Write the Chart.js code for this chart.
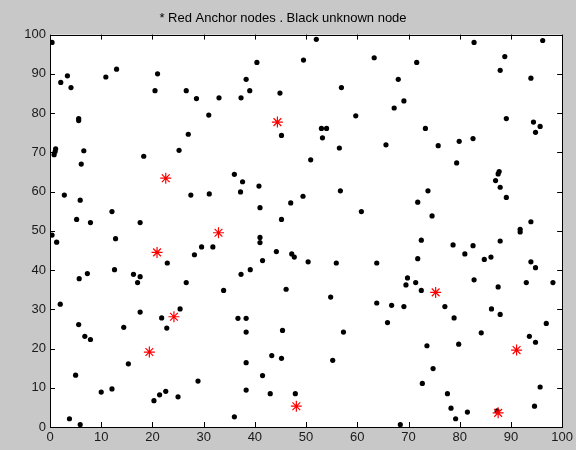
<!DOCTYPE html>
<html>
<head>
<meta charset="utf-8">
<script src="https://cdn.jsdelivr.net/npm/chart.js@4.4.1/dist/chart.umd.min.js"></script>
<style>
  html, body { margin: 0; padding: 0; background: #c8c8c8; }
  #wrap { width: 576px; height: 450px; }
</style>
</head>
<body>
<div id="wrap"><canvas id="chart" width="576" height="450"></canvas></div>
<script>
const titleText = "* Red Anchor nodes . Black unknown node";
const axisMin = 0;
const axisMax = 100;
const tickStep = 10;

// anchor nodes (red asterisks)
const redX = [44.4, 22.6, 20.9, 32.9, 19.4, 24.2, 48.1, 75.3, 91.1, 87.5];
const redY = [77.7, 63.4, 44.5, 49.5, 19.1, 28.1, 5.3, 34.3, 19.6, 3.6];

// unknown nodes (black dots)
const blackX = [
  0.4, 2.1, 3.4, 4.1, 5.6, 5.6, 1.1, 1.0, 0.8, 6.6, 6.1, 10.9, 13.0, 18.3, 20.5, 21.0, 25.2, 26.6, 27.0, 28.6, 31.0, 33.0,
  37.3, 39.0, 38.3, 40.4, 44.9, 45.2, 49.5, 52.0, 53.0, 54.0, 53.2, 50.9, 56.5, 56.9, 59.7, 63.3, 65.6,
  67.2, 68.0, 69.1, 71.6, 73.3, 75.8, 79.9, 79.4, 82.6, 82.8, 88.8, 87.9, 89.1, 93.9, 94.4, 95.7, 94.8, 96.2,
  2.8, 5.9, 5.2, 7.9, 0.4, 1.3, 5.7, 7.3, 12.1, 12.8, 12.6, 16.3, 17.6, 17.1, 17.6, 22.9, 27.5, 31.1, 28.2, 29.6, 31.8, 26.6,
  36.0, 37.6, 37.2, 40.8, 41.0, 47.0, 49.4, 45.2, 56.7, 60.8, 41.0, 41.0, 44.2, 47.2, 47.7, 41.5, 39.1, 37.3, 50.4, 55.9, 63.8, 33.9, 46.1, 54.8,
  87.7, 87.5, 87.0, 87.9, 89.1, 73.8, 71.8, 74.6, 72.5, 78.7, 82.6, 81.0, 71.8, 84.8, 86.1, 87.9, 91.8, 91.8, 93.9, 93.9, 94.8,
  69.8, 69.5, 71.4, 72.5, 82.8, 87.5, 93.0, 98.2,
  2.0, 5.6, 6.8, 7.9, 5.0, 3.8, 5.9, 10.0, 12.1, 14.4, 15.3, 17.6, 21.8, 22.8, 25.4, 20.3, 21.4, 22.6, 25.0, 28.9,
  63.8, 65.9, 36.7, 38.3, 38.3, 45.4, 57.3, 43.3, 45.2, 38.3, 55.2, 41.5, 38.3, 43.0, 47.9, 36.0,
  66.7, 69.1, 77.1, 78.9, 73.6, 79.8, 74.8, 72.7, 77.6, 78.3, 79.2, 81.5, 68.4, 86.2, 87.9, 84.2, 93.6, 94.8, 96.9, 95.7, 94.6, 87.3
];
const blackY = [
  98.0, 87.8, 89.5, 86.5, 78.6, 78.1, 70.9, 70.2, 69.4, 70.4, 67.0, 89.2, 91.2, 69.0, 85.7, 90.0, 70.5, 85.7, 74.6, 83.7, 79.5, 83.9,
  83.9, 85.7, 88.6, 92.9, 85.1, 74.3, 93.5, 98.8, 76.1, 76.1, 73.7, 68.1, 71.1, 86.5, 79.3, 94.1, 71.9,
  81.3, 88.6, 83.1, 92.9, 76.1, 71.7, 72.8, 67.3, 73.5, 98.0, 94.4, 90.9, 78.6, 88.9, 77.7, 76.6, 75.1, 98.5,
  59.1, 57.8, 52.9, 52.1, 48.9, 47.1, 37.8, 39.1, 54.9, 48.0, 40.1, 38.9, 38.3, 36.8, 52.1, 41.8, 59.1, 59.4, 43.9, 45.9, 45.9, 36.8,
  64.4, 62.5, 59.9, 61.4, 55.9, 57.1, 58.8, 52.9, 60.2, 54.9, 48.3, 47.0, 44.7, 44.1, 43.3, 42.4, 40.1, 38.9, 42.1, 41.8, 41.8, 34.8, 35.1, 33.1,
  65.1, 64.5, 62.8, 61.1, 58.5, 60.2, 57.3, 53.8, 47.6, 46.4, 46.2, 44.1, 42.9, 42.7, 43.3, 47.4, 50.4, 49.7, 52.3, 42.1, 40.6,
  38.0, 36.2, 36.8, 34.8, 37.5, 35.7, 36.8, 36.8,
  31.3, 26.1, 23.1, 22.3, 13.2, 2.1, 0.6, 8.9, 9.7, 25.4, 16.1, 29.3, 27.8, 25.2, 30.1, 6.7, 8.2, 9.1, 7.7, 11.7,
  31.6, 26.6, 27.7, 27.7, 24.2, 24.6, 24.2, 18.2, 17.5, 16.4, 17.0, 13.1, 9.4, 8.5, 8.5, 2.6,
  31.0, 30.7, 30.7, 27.8, 20.7, 21.1, 14.9, 11.1, 8.5, 4.8, 2.1, 3.8, 0.6, 30.1, 28.7, 24.0, 23.1, 21.6, 26.4, 10.2, 5.3, 4.1
];

const toPoints = (xs, ys) => xs.map((x, i) => ({ x, y: ys[i] }));

// white plot area + black box + inward ticks on all four sides (MATLAB look)
const matlabFrame = {
    id: 'matlabFrame',
    beforeDatasetsDraw(chart) {
        const { ctx, chartArea: a } = chart;
        ctx.save();
        ctx.fillStyle = '#ffffff';
        ctx.fillRect(a.left, a.top, a.right - a.left, a.bottom - a.top);
        ctx.restore();
    },
    afterDatasetsDraw(chart) {
        const { ctx, chartArea: a, scales } = chart;
        const len = 5;
        ctx.save();
        ctx.strokeStyle = '#000000';
        ctx.lineWidth = 1;
        ctx.beginPath();
        for (const t of scales.x.ticks) {
            const px = Math.round(scales.x.getPixelForValue(t.value)) + 0.5;
            ctx.moveTo(px, a.bottom); ctx.lineTo(px, a.bottom - len);
            ctx.moveTo(px, a.top); ctx.lineTo(px, a.top + len);
        }
        for (const t of scales.y.ticks) {
            const py = Math.round(scales.y.getPixelForValue(t.value)) + 0.5;
            ctx.moveTo(a.left, py); ctx.lineTo(a.left + len, py);
            ctx.moveTo(a.right, py); ctx.lineTo(a.right - len, py);
        }
        ctx.stroke();
        ctx.strokeRect(Math.round(a.left) + 0.5, Math.round(a.top) + 0.5,
            Math.round(a.right - a.left), Math.round(a.bottom - a.top));
        ctx.restore();
    }
};

const tickFont = { family: "'Liberation Sans', Arial, sans-serif", size: 13 };

new Chart(document.getElementById('chart'), {
    type: 'scatter',
    data: {
        datasets: [
            {
                label: 'Anchor nodes',
                data: toPoints(redX, redY),
                pointStyle: 'star',
                radius: 5.5,
                borderColor: '#ff0000',
                backgroundColor: '#ff0000',
                borderWidth: 1.2,
            },
            {
                label: 'Unknown nodes',
                data: toPoints(blackX, blackY),
                pointStyle: 'circle',
                radius: 2.6,
                borderWidth: 0,
                backgroundColor: '#000000',
            }
        ]
    },
    options: {
        responsive: false,
        animation: false,
        layout: { padding: { left: 0, right: 10, top: 0, bottom: 0 } },
        plugins: {
            legend: { display: false },
            tooltip: { enabled: false },
            title: {
                display: true,
                text: titleText,
                color: '#000000',
                font: { family: "'Liberation Sans', Arial, sans-serif", size: 13, weight: 'normal' },
                padding: { top: 11, bottom: 8 },
            }
        },
        scales: {
            x: {
                type: 'linear',
                min: axisMin,
                max: axisMax,
                border: { display: false },
                grid: { drawOnChartArea: false, drawTicks: false, display: false },
                ticks: { stepSize: tickStep, color: '#1a1a1a', font: tickFont, padding: 3, maxRotation: 0 },
                afterFit(scale) { scale.height = 23; }
            },
            y: {
                type: 'linear',
                min: axisMin,
                max: axisMax,
                border: { display: false },
                grid: { drawOnChartArea: false, drawTicks: false, display: false },
                ticks: { stepSize: tickStep, color: '#1a1a1a', font: tickFont, padding: 4 },
                afterFit(scale) { scale.width = 50; }
            }
        }
    },
    plugins: [matlabFrame]
});
</script>
</body>
</html>
